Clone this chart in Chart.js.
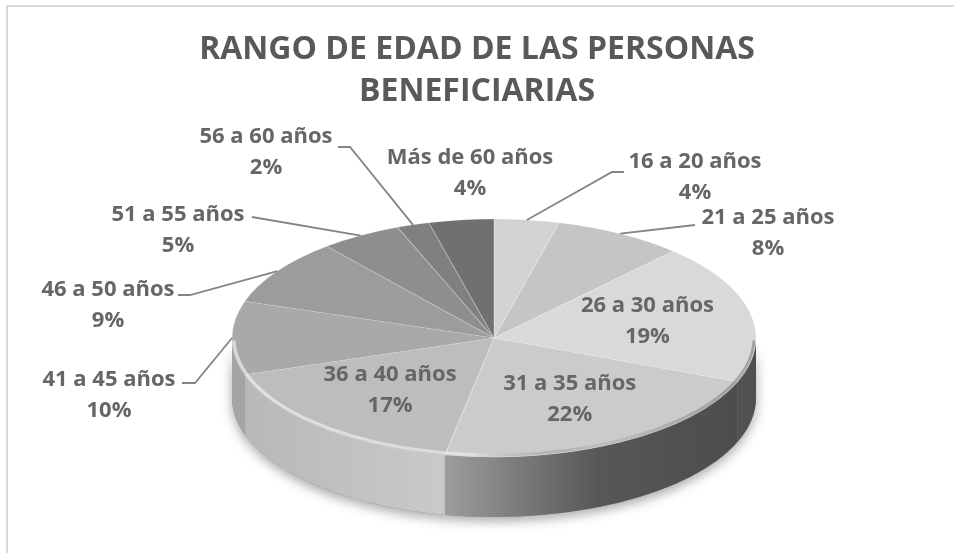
<!DOCTYPE html>
<html>
<head>
<meta charset="utf-8">
<script src="https://cdn.jsdelivr.net/npm/chart.js@4.4.0/dist/chart.umd.min.js"></script>
<style>
  html, body { margin: 0; padding: 0; background: #fff; }
  #wrap { position: relative; width: 954px; height: 553px; overflow: hidden; }
  #frame { position: absolute; left: 6px; top: 5px; right: -4px; bottom: -4px;
           border-left: 2px solid #d9d9d9; border-top: 2px solid #d9d9d9; }
  canvas { position: absolute; left: 0; top: 0; }
</style>
</head>
<body>
<div id="wrap">
  <div id="frame"></div>
  <canvas id="ageChart" width="954" height="553"></canvas>
</div>
<script>
// data
const categories = ['16 a 20 años', '21 a 25 años', '26 a 30 años', '31 a 35 años', '36 a 40 años',
                    '41 a 45 años', '46 a 50 años', '51 a 55 años', '56 a 60 años', 'Más de 60 años'];
const percentages = [4, 8, 19, 22, 17, 10, 9, 5, 2, 4];
const sliceColors = ['#d3d3d3', '#c5c5c5', '#d9d9d9', '#cbcbcb', '#bdbdbd',
                     '#a9a9a9', '#9c9c9c', '#8e8e8e', '#808080', '#707070'];
const chartTitle = ['RANGO DE EDAD DE LAS PERSONAS', 'BENEFICIARIAS'];

// where the tilted pie sits on the page
const pie3d = { cx: 494, cy: 338, rx: 262, ry: 119, depth: 60 };

// label boxes (text centre, first line) and leader line ends, Excel style
const labelLayout = [
    { x: 695, y: 162, elbow: [612, 172], end: [624, 172] },
    { x: 768, y: 218, end: [695, 225] },
    { inside: true },
    { inside: true },
    { inside: true },
    { x: 109, y: 380, elbow: [195, 383], end: [182, 383] },
    { x: 108, y: 290, elbow: [190, 295], end: [178, 295] },
    { x: 178, y: 215, end: [252, 217] },
    { x: 266, y: 137, elbow: [350, 147], end: [338, 147] },
    { x: 470, y: 158 }
];

const labelFont = 'bold 22px "Open Sans"';
const labelColor = '#666666';

function grayOf(hex) {
    return parseInt(hex.slice(1, 3), 16);
}
function shade(g, f) {
    const v = Math.max(0, Math.min(255, Math.round(g * f)));
    return `rgb(${v},${v},${v})`;
}

const tiltPlugin = {
    id: 'tilt',
    beforeDatasetsDraw(chart) {
        const ctx = chart.ctx;
        const arcs = chart.getDatasetMeta(0).data;
        const a0 = arcs[0];
        const { cx, cy, rx, ry, depth } = pie3d;

        // soft shadow under the side wall
        ctx.save();
        ctx.beginPath();
        ctx.ellipse(cx, cy, rx, ry, 0, 0, Math.PI);
        ctx.ellipse(cx, cy + depth, rx, ry, 0, Math.PI, 0, true);
        ctx.closePath();
        ctx.shadowColor = 'rgba(0,0,0,0.35)';
        ctx.shadowBlur = 12;
        ctx.shadowOffsetY = 4;
        ctx.fillStyle = '#888';
        ctx.fill();
        ctx.restore();

        // side wall of every slice that faces the viewer
        arcs.forEach((arc, i) => {
            const a = Math.max(arc.startAngle, 0);
            const b = Math.min(arc.endAngle, Math.PI);
            if (b <= a) return;
            const g = grayOf(sliceColors[i]);
            const mid = (arc.startAngle + arc.endAngle) / 2;
            const grad = ctx.createLinearGradient(cx - rx, 0, cx + rx, 0);
            if (mid > Math.PI / 2) {
                grad.addColorStop(0, shade(g, 0.97));
                grad.addColorStop(0.42, shade(g, 1.07));
                grad.addColorStop(1, shade(g, 1.07));
            } else {
                grad.addColorStop(0, shade(g, 0.8));
                grad.addColorStop(0.4, shade(g, 0.78));
                grad.addColorStop(0.7, shade(g, 0.43));
                grad.addColorStop(1, shade(g, 0.37));
            }
            ctx.save();
            ctx.beginPath();
            ctx.ellipse(cx, cy, rx, ry, 0, a, b);
            ctx.ellipse(cx, cy + depth, rx, ry, 0, b, a, true);
            ctx.closePath();
            ctx.fillStyle = grad;
            ctx.fill();
            ctx.restore();
        });

        // squash the library's pie into the ellipse of the top face
        const k = rx / a0.outerRadius;
        ctx.save();
        ctx.translate(cx, cy);
        ctx.scale(k, k * ry / rx);
        ctx.translate(-a0.x, -a0.y);
    },
    afterDatasetsDraw(chart) {
        const ctx = chart.ctx;
        ctx.restore();
        const arcs = chart.getDatasetMeta(0).data;
        const { cx, cy, rx, ry } = pie3d;

        // bevel along the front rim
        ctx.save();
        const rim = ctx.createLinearGradient(cx - rx, 0, cx + rx, 0);
        rim.addColorStop(0, 'rgba(255,255,255,0.55)');
        rim.addColorStop(0.45, 'rgba(255,255,255,0.45)');
        rim.addColorStop(0.7, 'rgba(0,0,0,0.06)');
        rim.addColorStop(1, 'rgba(0,0,0,0.25)');
        ctx.beginPath();
        ctx.ellipse(cx, cy, rx - 2, ry - 2, 0, 0.02, Math.PI - 0.02);
        ctx.strokeStyle = rim;
        ctx.lineWidth = 3;
        ctx.stroke();
        ctx.restore();

        // labels
        ctx.save();
        ctx.font = labelFont;
        ctx.fillStyle = labelColor;
        ctx.textAlign = 'center';
        ctx.textBaseline = 'middle';
        arcs.forEach((arc, i) => {
            const lay = labelLayout[i];
            const mid = (arc.startAngle + arc.endAngle) / 2;
            let x, y;
            if (lay.inside) {
                x = cx + 0.6 * rx * Math.cos(mid);
                y = cy + 0.6 * ry * Math.sin(mid) - 17;
            } else {
                x = lay.x;
                y = lay.y;
                if (lay.end) {
                    const sx = cx + rx * Math.cos(mid);
                    const sy = cy + ry * Math.sin(mid);
                    ctx.beginPath();
                    ctx.moveTo(sx, sy);
                    if (lay.elbow) ctx.lineTo(lay.elbow[0], lay.elbow[1]);
                    ctx.lineTo(lay.end[0], lay.end[1]);
                    ctx.strokeStyle = '#858585';
                    ctx.lineWidth = 1.8;
                    ctx.stroke();
                }
            }
            ctx.fillText(categories[i], x, y);
            ctx.fillText(percentages[i] + '%', x, y + 31);
        });
        ctx.restore();
    }
};

const ageChart = new Chart(document.getElementById('ageChart'), {
    type: 'pie',
    data: {
        labels: categories,
        datasets: [{
            data: percentages,
            backgroundColor: sliceColors,
            borderColor: 'rgba(255,255,255,0.25)',
            borderWidth: 1,
            clip: false
        }]
    },
    options: {
        responsive: false,
        animation: false,
        devicePixelRatio: 1,
        plugins: {
            legend: { display: false },
            tooltip: { enabled: false },
            title: {
                display: true,
                text: chartTitle,
                color: '#595959',
                font: { family: '"Open Sans"', size: 32, weight: 'bold', lineHeight: 1.32 },
                padding: { top: 29, bottom: 6 }
            }
        }
    },
    plugins: [tiltPlugin]
});
</script>
</body>
</html>
